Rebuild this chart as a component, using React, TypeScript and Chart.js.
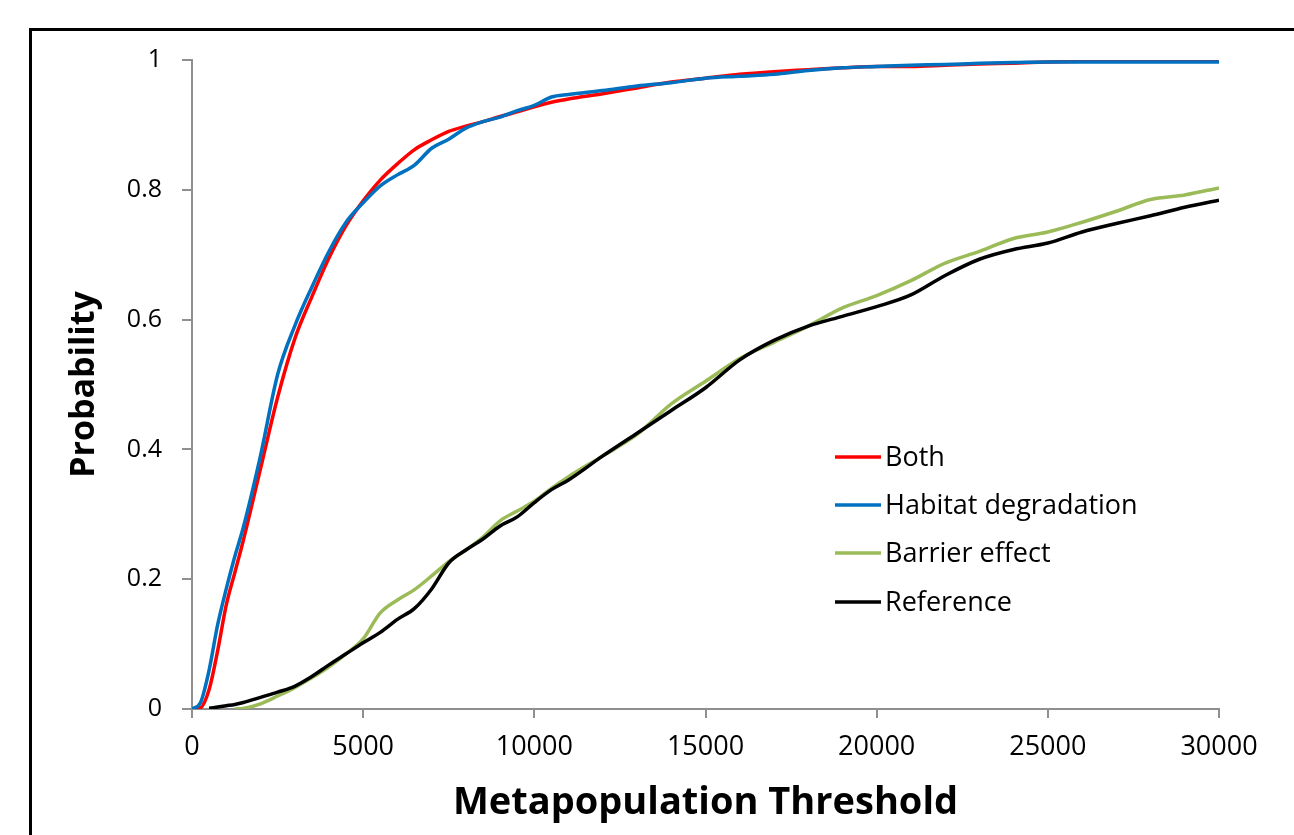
import React, { useEffect, useRef } from "react";
import { Chart, registerables } from "chart.js";

Chart.register(...registerables);

// Metapopulation threshold (x values shared by all series)
const thresholds = [
  0, 250, 500, 750, 1000, 1250, 1500, 2000, 2500, 3000, 3500, 4000, 4500, 5000,
  5500, 6000, 6500, 7000, 7500, 8000, 8500, 9000, 9500, 10000, 10500, 11000,
  12000, 13000, 14000, 15000, 16000, 17000, 18000, 19000, 20000, 21000, 22000,
  23000, 24000, 25000, 26000, 27000, 28000, 29000, 30000,
];

const both = [
  0, 0.002, 0.03, 0.09, 0.16, 0.21, 0.26, 0.37, 0.48, 0.57, 0.635, 0.695, 0.745,
  0.783, 0.815, 0.84, 0.862, 0.877, 0.89, 0.898, 0.905, 0.913, 0.92, 0.928,
  0.935, 0.94, 0.948, 0.957, 0.966, 0.972, 0.978, 0.982, 0.985, 0.988, 0.99,
  0.99, 0.992, 0.994, 0.995, 0.997, 0.998, 0.999, 0.999, 0.999, 0.999,
];

const habitatDegradation = [
  0, 0.01, 0.06, 0.13, 0.185, 0.235, 0.28, 0.39, 0.515, 0.59, 0.65, 0.705, 0.75,
  0.78, 0.806, 0.823, 0.838, 0.864, 0.878, 0.895, 0.905, 0.912, 0.922, 0.93,
  0.943, 0.947, 0.953, 0.96, 0.965, 0.972, 0.975, 0.978, 0.984, 0.988, 0.99,
  0.992, 0.993, 0.995, 0.996, 0.997, 0.997, 0.997, 0.997, 0.997, 0.997,
];

const barrierEffect = [
  null, null, null, null, null, 0, 0.001, 0.008, 0.02, 0.033, 0.048, 0.065, 0.085,
  0.108, 0.148, 0.168, 0.184, 0.205, 0.227, 0.245, 0.265, 0.29, 0.305, 0.32,
  0.34, 0.358, 0.39, 0.423, 0.47, 0.505, 0.54, 0.565, 0.59, 0.618, 0.637, 0.66,
  0.687, 0.705, 0.725, 0.735, 0.75, 0.767, 0.785, 0.792, 0.803,
];

const reference = [
  null, null, 0.001, 0.003, 0.005, 0.007, 0.01, 0.018, 0.026, 0.035, 0.05, 0.068,
  0.085, 0.102, 0.118, 0.138, 0.155, 0.185, 0.225, 0.245, 0.262, 0.282, 0.296,
  0.318, 0.338, 0.353, 0.39, 0.425, 0.46, 0.495, 0.538, 0.568, 0.59, 0.605,
  0.62, 0.638, 0.668, 0.693, 0.708, 0.718, 0.735, 0.748, 0.76, 0.773, 0.784,
];

const seriesNames = ["Both", "Habitat degradation", "Barrier effect", "Reference"];
const seriesColors = ["#ff0000", "#0070c0", "#9bbb59", "#000000"];
const seriesValues = [both, habitatDegradation, barrierEffect, reference];

const xTickValues = [0, 5000, 10000, 15000, 20000, 25000, 30000];
const yTickValues = [0, 0.2, 0.4, 0.6, 0.8, 1];

const FONT = "'Open Sans', 'Noto Sans', sans-serif";

const legendPlugin = {
  id: "insideLegend",
  afterDraw(chart: any) {
    const ctx = chart.ctx;
    const x0 = 835;
    const x1 = 881;
    const ys = [457, 505, 553, 602];
    ctx.save();
    ctx.font = `27px ${FONT}`;
    ctx.textBaseline = "middle";
    ctx.textAlign = "left";
    seriesNames.forEach((name, i) => {
      ctx.strokeStyle = seriesColors[i];
      ctx.lineWidth = 3.5;
      ctx.beginPath();
      ctx.moveTo(x0, ys[i]);
      ctx.lineTo(x1, ys[i]);
      ctx.stroke();
      ctx.fillStyle = "#000000";
      ctx.fillText(name, 885, ys[i] + 1);
    });
    ctx.restore();
  },
};

export default function App() {
  const canvasRef = useRef<HTMLCanvasElement | null>(null);

  useEffect(() => {
    if (!canvasRef.current) return;
    const datasets = seriesNames.map((name, i) => ({
      label: name,
      data: thresholds
        .map((x, j) => ({ x, y: seriesValues[i][j] }))
        .filter((p) => p.y !== null),
      borderColor: seriesColors[i],
      backgroundColor: seriesColors[i],
      borderWidth: 3.5,
      pointRadius: 0,
      fill: false,
      cubicInterpolationMode: "monotone" as const,
      order: 4 - i,
    }));

    const chart = new Chart(canvasRef.current, {
      type: "line",
      data: { datasets },
      plugins: [legendPlugin],
      options: {
        responsive: false,
        animation: false,
        devicePixelRatio: 1,
        layout: { padding: { top: 60, right: 75, left: 0, bottom: 0 } },
        plugins: {
          legend: { display: false },
          tooltip: { enabled: false },
        },
        scales: {
          x: {
            type: "linear",
            min: 0,
            max: 30000,
            afterFit: (scale: any) => {
              scale.height = 126;
            },
            afterBuildTicks: (scale: any) => {
              scale.ticks = xTickValues.map((v) => ({ value: v }));
            },
            ticks: {
              color: "#000000",
              font: { family: FONT, size: 27 },
              padding: 13,
              maxRotation: 0,
              callback: (v: any) => String(v),
            },
            grid: {
              display: true,
              drawOnChartArea: false,
              drawTicks: true,
              tickLength: 9,
              color: "#8f8f8f",
              lineWidth: 2,
            },
            border: { display: true, color: "#8f8f8f", width: 2 },
            title: {
              display: true,
              text: "Metapopulation Threshold",
              color: "#000000",
              font: { family: FONT, size: 38, weight: "bold" },
              padding: { top: 0, bottom: 9 },
            },
          },
          y: {
            type: "linear",
            min: 0,
            max: 1,
            afterFit: (scale: any) => {
              scale.width = 192;
            },
            afterBuildTicks: (scale: any) => {
              scale.ticks = yTickValues.map((v) => ({ value: v }));
            },
            ticks: {
              color: "#000000",
              font: { family: FONT, size: 25 },
              padding: 20,
              callback: (v: any) => String(v),
            },
            grid: {
              display: true,
              drawOnChartArea: false,
              drawTicks: true,
              tickLength: 10,
              color: "#8f8f8f",
              lineWidth: 2,
            },
            border: { display: true, color: "#8f8f8f", width: 2 },
            title: {
              display: true,
              text: "Probability",
              color: "#000000",
              font: { family: FONT, size: 34, weight: "bold" },
              padding: { top: 64, bottom: 0 },
            },
          },
        },
      },
    });
    return () => chart.destroy();
  }, []);

  return (
    <div
      style={{
        position: "fixed",
        left: 0,
        top: 0,
        width: 1294,
        height: 835,
        background: "#ffffff",
        overflow: "hidden",
      }}
    >
      <canvas
        ref={canvasRef}
        width={1294}
        height={835}
        style={{ position: "absolute", left: 0, top: 0, width: 1294, height: 835 }}
      />
      <div
        style={{
          position: "absolute",
          left: 29,
          top: 28,
          width: 1400,
          height: 1000,
          borderLeft: "3px solid #000000",
          borderTop: "3px solid #000000",
          pointerEvents: "none",
        }}
      />
    </div>
  );
}
